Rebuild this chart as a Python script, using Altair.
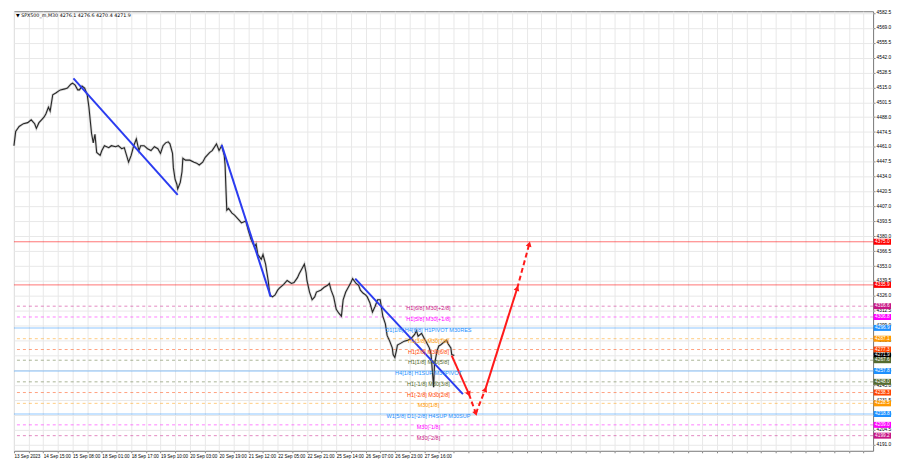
import math
import altair as alt
import pandas as pd

W, H = 864, 442
X_MAX = 997            # bars shown across the plot
Y_LO, Y_HI = 4185.5, 4584.0

# ---- price series (bar index, close) ----
price_bar = [
    0, 2, 6, 11, 16, 20, 24, 26, 29, 32,
    35, 37, 40, 42, 45, 49, 52, 54, 59, 62,
    66, 68, 71, 74, 76, 79, 82, 85, 87, 90,
    92, 94, 96, 100, 102, 105, 110, 113, 118, 121,
    125, 128, 133, 136, 139, 142, 145, 147, 151, 155,
    159, 163, 167, 170, 173, 176, 179, 181, 184, 185,
    187, 189, 190, 193, 195, 196, 199, 204, 209, 212,
    215, 219, 222, 227, 230, 235, 238, 241, 244, 245,
    246, 247, 249, 253, 256, 261, 264, 269, 272, 275,
    279, 281, 283, 287, 289, 292, 295, 297, 300, 303,
    306, 308, 313, 317, 322, 325, 329, 331, 334, 337,
    339, 340, 343, 346, 349, 351, 356, 360, 364, 366,
    368, 371, 374, 377, 380, 382, 385, 388, 391, 393,
    397, 400, 402, 405, 408, 410, 413, 416, 419, 422,
    425, 428, 431, 433, 436, 439, 440, 442, 444, 445,
    449, 453, 457, 461, 465, 467, 469, 473, 476, 478,
    482, 484, 485, 487, 488, 491, 493, 495, 499, 502,
    504, 507, 508, 511,
]
price_close = [
    4462.1, 4475.1, 4479.5, 4482.1, 4483.0, 4485.6, 4482.0, 4477.8, 4483.0, 4485.6,
    4488.2, 4490.9, 4497.0, 4493.5, 4508.3, 4510.1, 4511.8, 4512.7, 4513.6, 4514.4,
    4517.9, 4518.8, 4517.0, 4512.7, 4512.7, 4516.2, 4514.4, 4508.3, 4497.0, 4473.4,
    4464.7, 4472.5, 4455.9, 4453.3, 4457.7, 4462.1, 4460.3, 4462.1, 4461.2, 4462.1,
    4459.4, 4460.3, 4447.2, 4453.3, 4462.1, 4468.2, 4457.7, 4462.1, 4462.1, 4459.4,
    4457.7, 4461.2, 4459.4, 4455.1, 4462.1, 4464.7, 4465.6, 4463.8, 4455.1, 4442.0,
    4431.5, 4427.2, 4422.8, 4428.9, 4438.5, 4450.7, 4449.0, 4449.0, 4447.2, 4446.3,
    4444.6, 4447.2, 4451.6, 4455.9, 4457.7, 4463.8, 4457.7, 4462.1, 4453.3, 4444.6,
    4422.8, 4403.6, 4405.3, 4401.0, 4399.2, 4394.8, 4392.1, 4393.9, 4385.2, 4377.4,
    4370.4, 4373.0, 4363.4, 4359.1, 4363.4, 4354.7, 4339.9, 4326.8, 4325.0, 4326.8,
    4331.1, 4332.9, 4336.4, 4339.9, 4337.2, 4338.1, 4342.5, 4346.0, 4350.3, 4354.7,
    4346.9, 4339.9, 4329.4, 4322.4, 4325.0, 4329.4, 4331.1, 4333.7, 4335.5, 4337.2,
    4331.1, 4325.0, 4313.7, 4310.2, 4307.6, 4322.4, 4329.4, 4333.7, 4338.1, 4341.6,
    4337.2, 4335.5, 4331.1, 4328.5, 4326.8, 4325.0, 4319.8, 4311.1, 4316.3, 4322.4,
    4322.4, 4307.6, 4300.6, 4290.1, 4284.9, 4278.8, 4272.7, 4270.0, 4277.0, 4281.4,
    4283.1, 4284.9, 4285.8, 4287.5, 4291.0, 4294.5, 4289.3, 4291.9, 4287.5, 4284.9,
    4278.8, 4272.7, 4263.1, 4243.1, 4263.9, 4276.1, 4280.5, 4281.4, 4284.0, 4285.8,
    4282.3, 4278.8, 4272.7, 4271.9,
]

# ---- blue trend lines ----
trend_t0 = [69, 241, 396]
trend_p0 = [4523.1, 4462.9, 4341.6]
trend_t1 = [190, 298, 521]
trend_p1 = [4417.5, 4325.0, 4236.9]

# ---- red projection path ----
proj_t = [508, 528, 536, 547, 584, 598]
proj_p = [4271.8, 4236.9, 4219.4, 4241.2, 4332.9, 4373.0]
proj_dashed = [False, True, True, False, True]

# ---- horizontal levels ----
level_price = [4375.0, 4335.9, 4316.6, 4306.8, 4296.9, 4287.1, 4277.3, 4267.6,
               4257.8, 4248.0, 4238.3, 4228.5, 4218.8, 4209.0, 4199.2]
level_name = ["", "", "H1[6/8] M30[+2/8]", "H1[5/8] M30[+1/8]",
              "D1[1/8] H4[6/8] H1PIVOT M30RES", "H1[3/8] M30[7/8]",
              "H1[2/8] M30[6/8]", "H1[1/8] M30[5/8]", "H4[1/8] H1SUP M30PIVOT",
              "H1[-1/8] M30[3/8]", "H1[-2/8] M30[2/8]", "M30[1/8]",
              "W1[5/8] D1[-2/8] H4SUP M30SUP", "M30[-1/8]", "M30[-2/8]"]
level_color = ["#ff0000", "#ff0000", "#c71585", "#ff00ff", "#1e90ff", "#ff9900",
               "#ff4500", "#556b2f", "#1e90ff", "#556b2f", "#ff4500", "#ff9900",
               "#1e90ff", "#ff00ff", "#c71585"]
level_style = ["solid", "solid", "dash", "dash", "band", "dash", "dash", "dash",
               "band", "dash", "dash", "dash", "band", "dash", "dash"]
LABEL_T = 481

# current price badge
bid_price = 4271.9

# ---- axis labels ----
time_labels = ["13 Sep 2023", "14 Sep 15:00", "15 Sep 08:00", "18 Sep 01:00",
               "18 Sep 17:00", "19 Sep 10:00", "20 Sep 03:00", "20 Sep 19:00",
               "21 Sep 12:00", "22 Sep 05:00", "22 Sep 21:00", "25 Sep 14:00",
               "26 Sep 07:00", "26 Sep 23:00", "27 Sep 16:00"]
BARS_PER_LABEL = 34
price_ticks = [4191.0, 4204.5, 4218.0, 4231.5, 4245.0, 4258.5, 4272.0, 4285.5,
               4299.0, 4312.5, 4326.0, 4339.5, 4353.0, 4366.5, 4380.0, 4393.5,
               4407.0, 4420.5, 4434.0, 4447.5, 4461.0, 4474.5, 4488.0, 4501.5,
               4515.0, 4528.5, 4542.0, 4555.5, 4569.0, 4582.5]
title_text = "\u25bc SPX500_m,M30  4276.1 4276.6 4270.4 4271.9"

# ---------------------------------------------------------------
FONT = "Liberation Sans"
upx = X_MAX / W                    # bars per pixel
ppx = (Y_HI - Y_LO) / H            # points per pixel

xs = alt.Scale(domain=[0, X_MAX], nice=False, zero=False)
ys = alt.Scale(domain=[Y_LO, Y_HI], nice=False, zero=False)

grid_t = list(range(0, X_MAX + 1, BARS_PER_LABEL // 2))
label_arr = "[" + ",".join("'%s'" % s for s in time_labels) + "]"
n_lab = len(time_labels)
x_label_expr = (f"(datum.value % {BARS_PER_LABEL} == 0 && datum.value / {BARS_PER_LABEL} < {n_lab})"
                f" ? {label_arr}[datum.value / {BARS_PER_LABEL}] : ''")

X_AXIS = alt.Axis(
    values=grid_t, labelExpr=x_label_expr, title=None, grid=True,
    gridColor="#e8e8e8", tickSize=2, tickColor="#888", labelFontSize=4.6,
    labelFont=FONT, labelColor="#000", labelAlign="left", labelPadding=1,
    labelOverlap=False, labelFlush=False, domain=False)
Y_AXIS = alt.Axis(
    orient="right", values=price_ticks, format=".1f", title=None, grid=True,
    gridColor="#e8e8e8", tickSize=2, tickColor="#888", labelFontSize=4.8,
    labelFont=FONT, labelColor="#000", labelPadding=1, labelOverlap=False,
    labelFlush=False, domain=False)


def xq(field):
    return alt.X(f"{field}:Q", scale=xs, axis=X_AXIS)


def yq(field="price"):
    return alt.Y(f"{field}:Q", scale=ys, axis=Y_AXIS)


def xd(v):
    return alt.XDatum(v, scale=xs, axis=X_AXIS)


def yd(v):
    return alt.YDatum(v, scale=ys, axis=Y_AXIS)


price_df = pd.DataFrame({"t": price_bar, "p": price_close})
price_halo = alt.Chart(price_df).mark_line(color="#9a9a9a", strokeWidth=2.6,
                                           opacity=0.4).encode(
    x=xq("t"), y=yq("p"), order="t:Q")
price_layer = alt.Chart(price_df).mark_line(color="#262626", strokeWidth=1.1).encode(
    x=xq("t"), y=yq("p"), order="t:Q")

lv = pd.DataFrame({"price": level_price, "name": level_name,
                   "color": level_color, "style": level_style})
lv_red = lv[lv["style"] == "solid"]
lv_band = lv[lv["style"] == "band"]
lv_dash = lv[lv["style"] == "dash"]

red_lines = alt.Chart(lv_red).mark_rule(strokeWidth=1, opacity=0.55).encode(
    y=yq(), color=alt.Color("color:N", scale=None))
band_lines = alt.Chart(lv_band).mark_rule(strokeWidth=2, opacity=0.25).encode(
    y=yq(), color=alt.Color("color:N", scale=None))
dash_lines = alt.Chart(lv_dash).mark_rule(strokeWidth=1, opacity=0.5, strokeDash=[3, 3]).encode(
    y=yq(), color=alt.Color("color:N", scale=None))

lv_txt = lv[lv["name"] != ""]
level_text = alt.Chart(lv_txt).mark_text(fontSize=5.6, font=FONT, align="center",
                                         baseline="middle", dy=2).encode(
    x=xd(LABEL_T), y=yq(), text="name:N", color=alt.Color("color:N", scale=None))

trend_df = pd.DataFrame({"t0": trend_t0, "p0": trend_p0, "t1": trend_t1, "p1": trend_p1})
trend = alt.Chart(trend_df).mark_rule(color="#2b3cf0", strokeWidth=2).encode(
    x=xq("t0"), y=yq("p0"), x2="t1:Q", y2="p1:Q")

seg = pd.DataFrame({"t0": proj_t[:-1], "p0": proj_p[:-1], "t1": proj_t[1:],
                    "p1": proj_p[1:], "dashed": proj_dashed})
angs = []
for a, b, c, d in zip(seg["t0"], seg["p0"], seg["t1"], seg["p1"]):
    dxp = (c - a) / upx
    dyp = -(d - b) / ppx
    angs.append(math.degrees(math.atan2(dxp, -dyp)) % 360)
seg["ang"] = angs
RED = "#ff1a1a"
proj_solid = alt.Chart(seg[~seg["dashed"]]).mark_rule(color=RED, strokeWidth=2).encode(
    x=xq("t0"), y=yq("p0"), x2="t1:Q", y2="p1:Q")
proj_dash = alt.Chart(seg[seg["dashed"]]).mark_rule(color=RED, strokeWidth=2,
                                                    strokeDash=[5, 3]).encode(
    x=xq("t0"), y=yq("p0"), x2="t1:Q", y2="p1:Q")
arrows = alt.Chart(seg).mark_point(shape="triangle-up", filled=True, size=35,
                                   color=RED, opacity=1).encode(
    x=xq("t1"), y=yq("p1"), angle=alt.Angle("ang:Q", scale=None))

badge_price = level_price[:7] + [bid_price] + level_price[7:]
badge_color = level_color[:7] + ["#000000"] + level_color[7:]
bd = pd.DataFrame({"price": badge_price, "color": badge_color})
bd["label"] = bd["price"].map(lambda v: f"{v:.1f}")
bd["top"] = bd["price"] + 3.0 * ppx
bd["bot"] = bd["price"] - 3.0 * ppx
badges = alt.Chart(bd).mark_rect().encode(
    x=xd(X_MAX + 0.5 * upx), x2=alt.X2Datum(X_MAX + 18 * upx),
    y=yq("top"), y2="bot:Q", color=alt.Color("color:N", scale=None))
badge_txt = alt.Chart(bd).mark_text(color="white", fontSize=4.8, font=FONT,
                                    align="left", baseline="middle").encode(
    x=xd(X_MAX + 2 * upx), y=yq(), text="label:N")

title = alt.Chart(pd.DataFrame({"s": [title_text]})).mark_text(
    fontSize=4.8, font="DejaVu Sans", align="left", baseline="top", dx=2, dy=2,
    color="#000").encode(x=xd(0), y=yd(Y_HI), text="s:N")

chart = alt.layer(
    red_lines, band_lines, dash_lines, price_halo, price_layer, trend, proj_solid,
    proj_dash, arrows, level_text, badges, badge_txt, title,
).properties(width=W, height=H, padding=0, background="white").configure_view(
    stroke="#777", strokeWidth=1)

chart.save("out.html", embed_options={"renderer": "svg", "actions": False})
